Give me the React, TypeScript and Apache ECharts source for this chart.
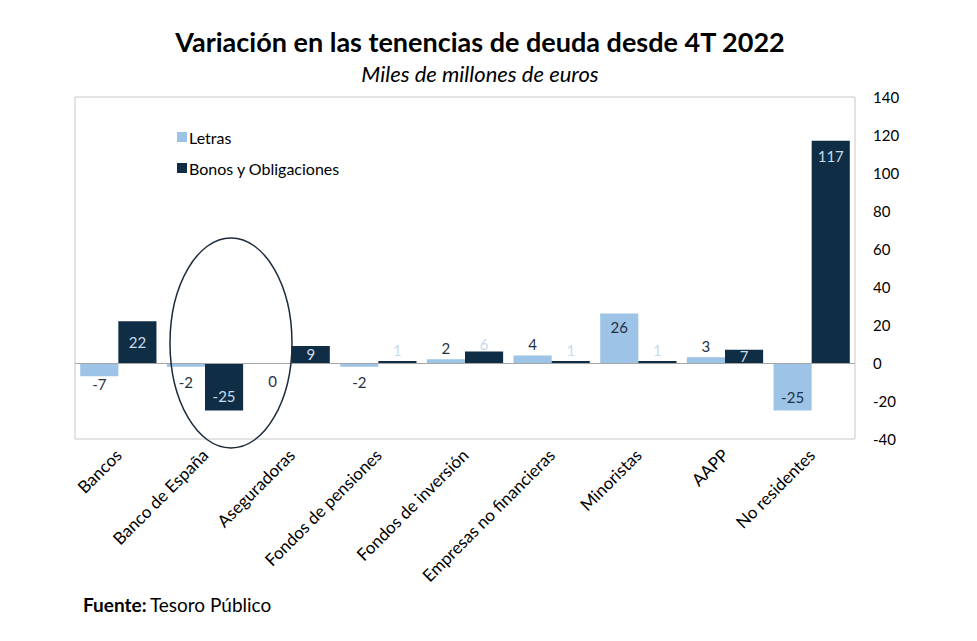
import React, { useEffect, useRef } from "react";
import * as echarts from "echarts";

const categories = [
  "Bancos",
  "Banco de España",
  "Aseguradoras",
  "Fondos de pensiones",
  "Fondos de inversión",
  "Empresas no financieras",
  "Minoristas",
  "AAPP",
  "No residentes",
];
const letras = [-7, -2, 0, -2, 2, 4, 26, 3, -25];
const bonos = [22, -25, 9, 1, 6, 1, 1, 7, 117];
const yTicks = { min: -40, max: 140, interval: 20 };

const letrasLabelPos = ["bottom", "bottom", "bottom", "bottom", "top", "top", "insideTop", "top", "insideBottom"];
const letrasLabelDist = [0, 8, 10, 8, 4, 4, 6, 4, 6];
const bonosLabelPos = ["inside", "insideBottom", "inside", "top", "top", "top", "top", "inside", "insideTop"];
const bonosLabelDist = [5, 7, 5, 4, 0, 4, 4, 5, 8];

const FONT = "Lato, 'Open Sans', sans-serif";

export default function App() {
  const ref = useRef<HTMLDivElement>(null);
  useEffect(() => {
    document.body.style.margin = "0";
    const chart = echarts.init(ref.current!, null, { renderer: "svg" });
    chart.setOption({
      animation: false,
      backgroundColor: "#ffffff",
      textStyle: { fontFamily: FONT },
      title: {
        text: "Variación en las tenencias de deuda desde 4T 2022",
        subtext: "Miles de millones de euros",
        left: 475,
        textAlign: "center",
        top: 23,
        itemGap: 7,
        textStyle: { fontFamily: FONT, fontSize: 27, fontWeight: "bold", color: "#000000" },
        subtextStyle: { fontFamily: FONT, fontSize: 22, fontStyle: "italic", color: "#000000" },
      },
      legend: {
        orient: "vertical",
        left: 172,
        top: 124,
        itemWidth: 10,
        itemHeight: 10,
        itemGap: 15,
        icon: "rect",
        textStyle: { fontFamily: FONT, fontSize: 16, color: "#000000", padding: [0, 0, 0, -3] },
        data: ["Letras", "Bonos y Obligaciones"],
      },
      grid: {
        left: 75,
        right: 122,
        top: 97,
        bottom: 202,
        show: true,
        borderColor: "#c8c8c8",
        borderWidth: 1,
        backgroundColor: "transparent",
      },
      xAxis: {
        type: "category",
        data: categories,
        axisLine: { show: false, onZero: false },
        axisTick: { show: false },
        axisLabel: {
          rotate: 45,
          interval: 0,
          fontFamily: FONT,
          fontSize: 17,
          color: "#000000",
          margin: 13,
        },
      },
      yAxis: {
        type: "value",
        position: "right",
        min: yTicks.min,
        max: yTicks.max,
        interval: yTicks.interval,
        splitLine: { show: false },
        axisLine: { show: false },
        axisTick: { show: false },
        axisLabel: { fontFamily: FONT, fontSize: 15, color: "#000000", margin: 18 },
      },
      series: [
        {
          name: "Letras",
          type: "bar",
          barGap: "0%",
          barCategoryGap: "12%",
          itemStyle: { color: "#9dc3e6" },
          data: letras.map((v, i) => ({
            value: v,
            label: { position: letrasLabelPos[i], distance: letrasLabelDist[i] },
          })),
          label: {
            show: true,
            fontFamily: FONT,
            fontSize: 15,
            color: "#1f3244",
          },
          markLine: {
            silent: true,
            symbol: ["none", "none"],
            label: { show: false },
            lineStyle: { color: "#a6a6a6", type: "solid", width: 1 },
            data: [{ yAxis: 0 }],
          },
        },
        {
          name: "Bonos y Obligaciones",
          type: "bar",
          barGap: "0%",
          barCategoryGap: "12%",
          itemStyle: { color: "#0f2d44" },
          data: bonos.map((v, i) => ({
            value: v,
            label: { position: bonosLabelPos[i], distance: bonosLabelDist[i] },
          })),
          label: {
            show: true,
            fontFamily: FONT,
            fontSize: 15,
            color: "#c9dbed",
          },
        },
      ],
      graphic: [
        {
          type: "ellipse",
          shape: { cx: 231, cy: 343, rx: 61, ry: 105 },
          style: { fill: "none", stroke: "#1c2b3b", lineWidth: 1.5 },
          z: 100,
        },
        {
          type: "text",
          left: 83,
          top: 595,
          style: {
            text: "{b|Fuente:} {n|Tesoro Público}",
            rich: {
              b: { fontFamily: FONT, fontSize: 19, fontWeight: "bold", fill: "#000000" },
              n: { fontFamily: FONT, fontSize: 19, fill: "#000000" },
            },
          },
        },
      ],
    });
    return () => chart.dispose();
  }, []);
  return <div ref={ref} style={{ width: 977, height: 641 }} />;
}
